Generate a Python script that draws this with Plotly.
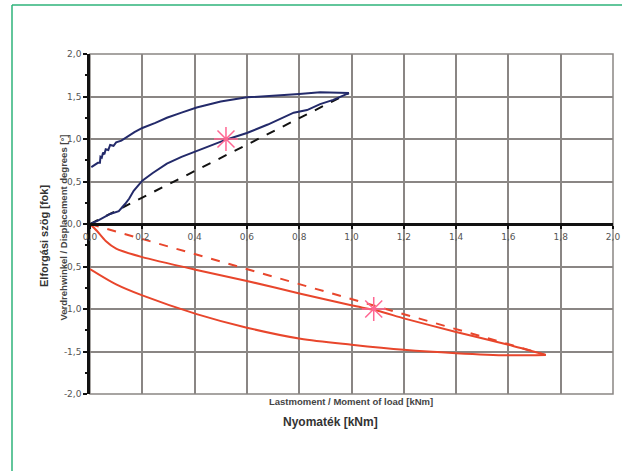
import plotly.graph_objects as go

# ---- data (moment of load [kNm], displacement degrees) ----
blue_load_x = [0.0, 0.03, 0.077, 0.11, 0.134, 0.15, 0.167, 0.2, 0.24, 0.294, 0.35, 0.408, 0.47, 0.523, 0.6, 0.68, 0.779, 0.83, 0.88, 0.93, 0.99]
blue_load_y = [0.0, 0.04, 0.118, 0.15, 0.235, 0.3, 0.39, 0.51, 0.6, 0.71, 0.79, 0.86, 0.93, 0.995, 1.07, 1.17, 1.31, 1.34, 1.41, 1.46, 1.54]

blue_unload_x = [0.99, 0.88, 0.8, 0.7, 0.6, 0.5, 0.408, 0.35, 0.294, 0.25, 0.2, 0.17, 0.14, 0.12, 0.1, 0.09, 0.077, 0.07, 0.06, 0.055, 0.05, 0.045, 0.04, 0.038, 0.03, 0.02, 0.01, 0.005]
blue_unload_y = [1.54, 1.55, 1.53, 1.51, 1.49, 1.44, 1.37, 1.31, 1.25, 1.19, 1.13, 1.08, 1.02, 0.98, 0.96, 0.92, 0.93, 0.87, 0.88, 0.82, 0.84, 0.78, 0.79, 0.72, 0.72, 0.70, 0.68, 0.67]

black_dash_x = [0.0, 0.99]
black_dash_y = [0.0, 1.54]

red_load_x = [0.0, 0.026, 0.06, 0.10, 0.2, 0.408, 0.6, 0.805, 1.003, 1.1, 1.2, 1.4, 1.6, 1.743]
red_load_y = [0.0, -0.08, -0.2, -0.29, -0.39, -0.54, -0.67, -0.82, -0.96, -1.02, -1.11, -1.27, -1.42, -1.54]

red_unload_x = [1.743, 1.6, 1.4, 1.2, 1.0, 0.805, 0.6, 0.408, 0.2, 0.1, 0.0]
red_unload_y = [-1.54, -1.545, -1.52, -1.48, -1.42, -1.35, -1.22, -1.06, -0.84, -0.71, -0.53]

red_dash_x = [0.0, 1.743]
red_dash_y = [0.0, -1.54]

star_x = [0.52, 1.085]
star_y = [1.0, -1.0]

x_ticks = [0.0, 0.2, 0.4, 0.6, 0.8, 1.0, 1.2, 1.4, 1.6, 1.8, 2.0]
x_tick_text = ["0,0", "0,2", "0,4", "0,6", "0,8", "1,0", "1,2", "1,4", "1,6", "1,8", "2,0"]
y_ticks = [-2.0, -1.5, -1.0, -0.5, 0.0, 0.5, 1.0, 1.5, 2.0]
y_tick_text = ["-2,0", "-1,5", "-1,0", "-0,5", "0,0", "0,5", "1,0", "1,5", "2,0"]

BLUE = "#232a6a"
RED = "#e8462c"
STAR = "#e85a55"

fig = go.Figure()
fig.add_trace(go.Scatter(x=black_dash_x, y=black_dash_y, mode="lines",
                         line=dict(color="#111111", width=2, dash="dash")))
fig.add_trace(go.Scatter(x=blue_load_x, y=blue_load_y, mode="lines",
                         line=dict(color=BLUE, width=2)))
fig.add_trace(go.Scatter(x=blue_unload_x, y=blue_unload_y, mode="lines",
                         line=dict(color=BLUE, width=2)))
fig.add_trace(go.Scatter(x=red_dash_x, y=red_dash_y, mode="lines",
                         line=dict(color=RED, width=2, dash="dash")))
fig.add_trace(go.Scatter(x=red_load_x, y=red_load_y, mode="lines",
                         line=dict(color=RED, width=2, shape="spline", smoothing=0.6)))
fig.add_trace(go.Scatter(x=red_unload_x, y=red_unload_y, mode="lines",
                         line=dict(color=RED, width=2, shape="spline", smoothing=0.8)))
fig.add_trace(go.Scatter(x=star_x, y=star_y, mode="markers",
                         marker=dict(symbol="asterisk-open", size=20,
                                     line=dict(color=STAR, width=1.5))))

fig.update_layout(
    width=622, height=471,
    margin=dict(l=90, r=9, t=54, b=77, autoexpand=False),
    paper_bgcolor="white", plot_bgcolor="white",
    showlegend=False,
    font=dict(family="DejaVu Sans", size=9, color="#555555"),
    xaxis=dict(range=[0, 2], tickvals=x_ticks, ticktext=x_tick_text,
               anchor="free", position=0.5, automargin=False,
               showline=True, linecolor="#111111", linewidth=2.5,
               ticks="outside", ticklen=3, tickcolor="#111111", tickwidth=1.5,
               showgrid=True, gridcolor="#8a8684", gridwidth=1.5,
               zeroline=False, tickfont=dict(size=9, color="#555555")),
    yaxis=dict(range=[-2, 2], tickvals=y_ticks, ticktext=y_tick_text,
               automargin=False,
               showline=True, linecolor="#111111", linewidth=2.5,
               ticks="outside", ticklen=4, tickcolor="#111111", tickwidth=1.5,
               minor=dict(dtick=0.25, tick0=0, ticks="outside", ticklen=2,
                          tickcolor="#111111", showgrid=False),
               showgrid=True, gridcolor="#8a8684", gridwidth=1.5,
               zeroline=False, tickfont=dict(size=9, color="#555555")),
)

pw = 622 - 90 - 9
ph = 471 - 54 - 77
def px(xp):
    return (xp - 90) / pw
def py(yp):
    return (471 - 77 - yp) / ph

# plot frame (top/right)
fig.add_shape(type="rect", xref="x domain", yref="y domain", x0=0, y0=0, x1=1, y1=1,
              line=dict(color="#8a8684", width=1.5), layer="below")

# green page border (top and left)
fig.add_shape(type="line", xref="paper", yref="paper", x0=px(12), y0=py(5), x1=px(625), y1=py(5),
              line=dict(color="#2eb37a", width=1.5))
fig.add_shape(type="line", xref="paper", yref="paper", x0=px(12), y0=py(5), x1=px(12), y1=py(475),
              line=dict(color="#2eb37a", width=1.5))

# axis titles
fig.add_annotation(text="<b>Lastmoment / Moment of load [kNm]</b>", xref="paper", yref="paper",
                   x=px(351), y=py(409), showarrow=False,
                   font=dict(family="Liberation Sans", size=9.5, color="#444444"))
fig.add_annotation(text="<b>Nyomaték [kNm]</b>", xref="paper", yref="paper",
                   x=px(330), y=py(431), showarrow=False,
                   font=dict(family="Liberation Sans", size=12, color="#333333"))
fig.add_annotation(text="<b>Verdrehwinkel / Displacement degrees [°]</b>", xref="paper", yref="paper",
                   x=px(55), y=py(228), showarrow=False, textangle=-90,
                   font=dict(family="Liberation Sans", size=9.5, color="#444444"))
fig.add_annotation(text="<b>Elforgási szög [fok]</b>", xref="paper", yref="paper",
                   x=px(36), y=py(236), showarrow=False, textangle=-90,
                   font=dict(family="Liberation Sans", size=11, color="#333333"))

fig.write_html("out.html", config={"displayModeBar": False},
               post_script="document.body.style.margin='0';")
